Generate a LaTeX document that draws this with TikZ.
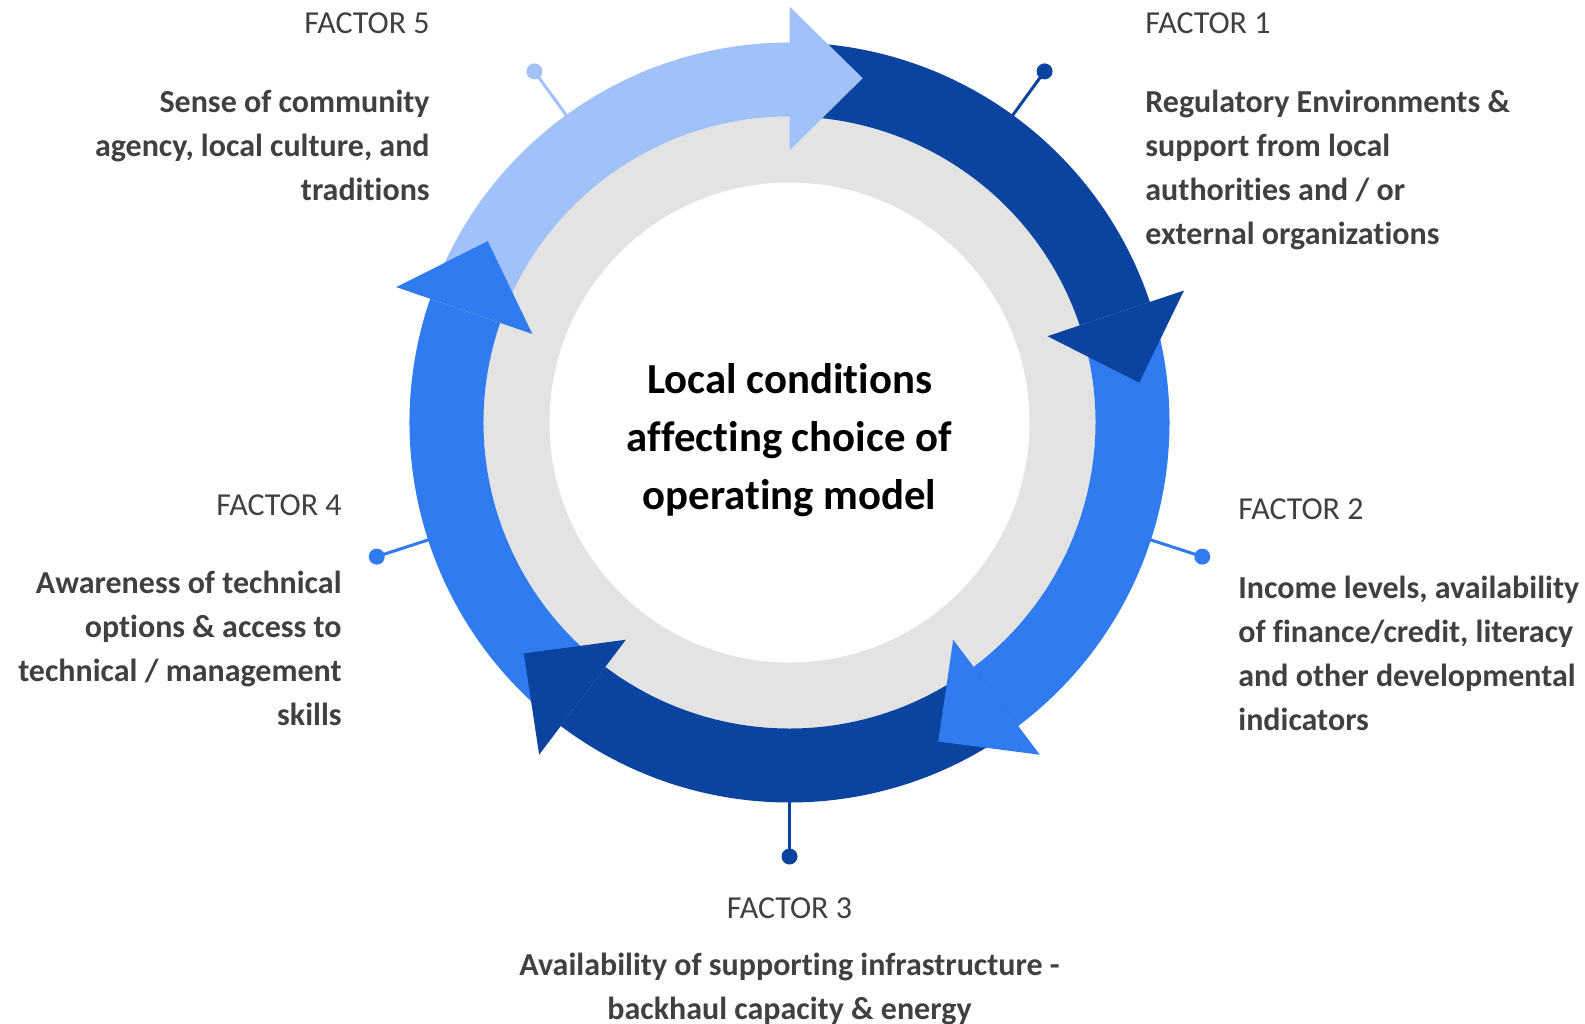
\documentclass[tikz,border=0pt]{standalone}
\usepackage{fontspec}
\setmainfont{Carlito}[Ligatures=NoCommon]
\usepackage{xcolor}
\definecolor{ringdark}{RGB}{11,68,160}
\definecolor{ringmid}{RGB}{47,123,239}
\definecolor{ringlight}{RGB}{160,194,248}
\definecolor{ringgrey}{RGB}{227,227,227}
\definecolor{factorgrey}{RGB}{64,64,64}

\begin{document}
\begin{tikzpicture}[x=0.5pt,y=0.5pt,yscale=-1,xscale=1,
  factorlabel/.style={inner sep=0pt, text=factorgrey, font=\fontsize{16}{22}\selectfont},
  factortext/.style={inner sep=0pt, text=factorgrey, font=\fontsize{16}{22}\selectfont\bfseries},
  centretext/.style={inner sep=0pt, text=black, align=center, font=\fontsize{21.4}{28.8}\selectfont\bfseries},
  pindot/.style={circle, inner sep=0pt, minimum size=8pt},
  pinline/.style={line width=1.5pt}]
\useasboundingbox (0,0) rectangle (1585,1023);

\begin{scope}[shift={(789.5,422.5)},yscale=-1]
%Shape: Circle [grey ring]
\fill[ringgrey] (0,0) circle[radius=306];
\fill[white] (0,0) circle[radius=240];

%Pins
\coordinate (rim1) at (54:378);   \node[pindot, fill=ringdark]  (dot1) at (54:434) {};
\coordinate (rim2) at (-18:378);  \node[pindot, fill=ringmid]   (dot2) at (-18:434) {};
\coordinate (rim3) at (-90:378);  \node[pindot, fill=ringdark]  (dot3) at (-90:434) {};
\coordinate (rim4) at (-162:378); \node[pindot, fill=ringmid]   (dot4) at (-162:434) {};
\coordinate (rim5) at (126:378);  \node[pindot, fill=ringlight] (dot5) at (126:434) {};
\draw[pinline, ringdark]  (rim1) -- (dot1.center);
\draw[pinline, ringmid]   (rim2) -- (dot2.center);
\draw[pinline, ringdark]  (rim3) -- (dot3.center);
\draw[pinline, ringmid]   (rim4) -- (dot4.center);
\draw[pinline, ringlight] (rim5) -- (dot5.center);

%Shape: Arc [segment 1]
\fill[ringdark] (90:306) arc[start angle=90, end angle=18.5, radius=306] -- (18.5:380) arc[start angle=18.5, end angle=90, radius=380] -- cycle;
%Shape: Arc [segment 2]
\fill[ringmid] (18.5:306) arc[start angle=18.5, end angle=-53, radius=306] -- (-53:380) arc[start angle=-53, end angle=18.5, radius=380] -- cycle;
%Shape: Arc [segment 3]
\fill[ringdark] (-53:306) arc[start angle=-53, end angle=-127, radius=306] -- (-127:380) arc[start angle=-127, end angle=-53, radius=380] -- cycle;
%Shape: Arc [segment 4]
\fill[ringmid] (-127:306) arc[start angle=-127, end angle=-199, radius=306] -- (-199:380) arc[start angle=-199, end angle=-127, radius=380] -- cycle;
%Shape: Arc [segment 5]
\fill[ringlight] (-199:306) arc[start angle=-199, end angle=-270, radius=306] -- (-270:380) arc[start angle=-270, end angle=-199, radius=380] -- cycle;

%Shape: Triangle [heads]
\fill[ringlight] (90:272) -- (90:416) -- (78:352) -- cycle;
\fill[ringdark] (18.5:272) -- (18.5:416) -- (6.5:352) -- cycle;
\fill[ringmid] (-53:272) -- (-53:416) -- (-65:352) -- cycle;
\fill[ringdark] (-127:272) -- (-127:416) -- (-139:352) -- cycle;
\fill[ringmid] (-199:272) -- (-199:416) -- (-211:352) -- cycle;
\end{scope}

% Text Node
\node[centretext, anchor=base] (centre) at (789.5,509) {Local conditions\\affecting choice of\\operating model};

% Text Node
\node[factorlabel, anchor=base west] (label1) at (1145,33) {FACTOR 1};
\node[factortext, anchor=base west, align=left] (text1) at (1145,244) {Regulatory Environments \&\\support from local\\authorities and / or\\external organizations};
% Text Node
\node[factorlabel, anchor=base west] (label2) at (1238,519) {FACTOR 2};
\node[factortext, anchor=base west, align=left] (text2) at (1238,730) {Income levels, availability\\of finance/credit, literacy\\and other developmental\\indicators};
% Text Node
\node[factorlabel, anchor=base] (label3) at (789.5,918) {FACTOR 3};
\node[factortext, anchor=base, align=center] (text3) at (789.5,1019) {Availability of supporting infrastructure -\\backhaul capacity \& energy};
% Text Node
\node[factorlabel, anchor=base east] (label4) at (342,515) {FACTOR 4};
\node[factortext, anchor=base east, align=right] (text4) at (342,725) {Awareness of technical\\options \& access to\\technical / management\\skills};
% Text Node
\node[factorlabel, anchor=base east] (label5) at (430,33) {FACTOR 5};
\node[factortext, anchor=base east, align=right] (text5) at (430,200) {Sense of community\\agency, local culture, and\\traditions};

\end{tikzpicture}
\end{document}
